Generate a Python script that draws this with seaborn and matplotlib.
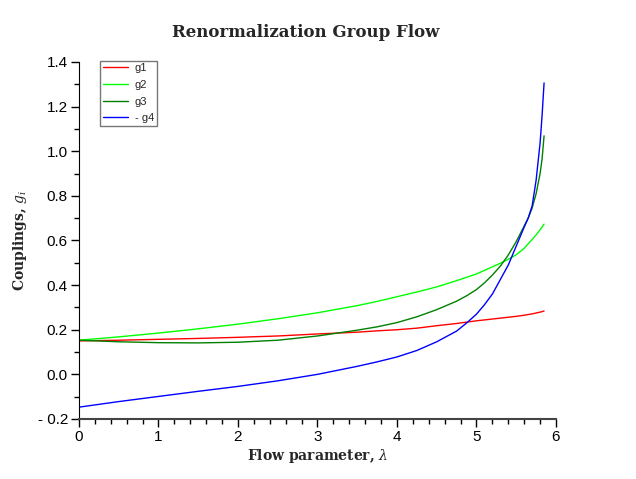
import numpy as np
import pandas as pd
import matplotlib
matplotlib.use("Agg")
import matplotlib.pyplot as plt
import seaborn as sns
from matplotlib.ticker import MultipleLocator, FuncFormatter

# values
lam = [0.0, 0.5, 1.0, 1.5, 2.0, 2.5, 3.0, 3.5, 3.75, 4.0, 4.25, 4.5, 4.75,
       4.875, 5.0, 5.1, 5.2, 5.3, 5.4, 5.5, 5.6, 5.65, 5.7, 5.75, 5.8,
       5.825, 5.85]
g1 = [0.150, 0.153, 0.157, 0.161, 0.166, 0.172, 0.181, 0.189, 0.195, 0.200,
      0.207, 0.218, 0.228, 0.234, 0.240, 0.244, 0.248, 0.252, 0.256, 0.260,
      0.265, 0.268, 0.271, 0.275, 0.279, 0.281, 0.284]
g2 = [0.153, 0.168, 0.185, 0.204, 0.225, 0.249, 0.276, 0.308, 0.327, 0.348,
      0.369, 0.392, 0.420, 0.435, 0.450, 0.466, 0.482, 0.498, 0.516, 0.536,
      0.565, 0.585, 0.605, 0.625, 0.648, 0.660, 0.673]
g3 = [0.153, 0.146, 0.142, 0.141, 0.144, 0.153, 0.172, 0.198, 0.213, 0.232,
      0.258, 0.290, 0.328, 0.352, 0.380, 0.410, 0.445, 0.485, 0.535, 0.595,
      0.665, 0.700, 0.745, 0.810, 0.900, 0.965, 1.069]
neg_g4 = [-0.147, -0.122, -0.099, -0.076, -0.054, -0.029, 0.0, 0.036, 0.056,
          0.078, 0.107, 0.146, 0.194, 0.230, 0.270, 0.312, 0.360, 0.425,
          0.490, 0.575, 0.660, 0.700, 0.755, 0.870, 1.037, 1.160, 1.306]

labels = ["g1", "g2", "g3", "- g4"]
colors = ["#ff0000", "#00ff00", "#008000", "#0000ff"]

df = pd.DataFrame({"lam": lam, "g1": g1, "g2": g2, "g3": g3, "- g4": neg_g4})
long_df = df.melt(id_vars="lam", var_name="series", value_name="value")

sns.set_style("ticks")
plt.rcParams["font.family"] = ["Liberation Sans", "DejaVu Sans"]
plt.rcParams["mathtext.fontset"] = "dejavuserif"

fig = plt.figure(figsize=(6.36, 4.79), dpi=100)
ax = fig.add_axes([0.1242, 0.1253, 0.75, 0.7453])

sns.lineplot(data=long_df, x="lam", y="value", hue="series", hue_order=labels,
             palette=dict(zip(labels, colors)), linewidth=1.0, ax=ax)

ax.set_xlim(0, 6)
ax.set_ylim(-0.2, 1.4)
ax.xaxis.set_major_locator(MultipleLocator(1))
ax.xaxis.set_minor_locator(MultipleLocator(0.2))
ax.yaxis.set_major_locator(MultipleLocator(0.2))
ax.yaxis.set_minor_locator(MultipleLocator(0.1))


def yfmt(v, pos):
    s = f"{abs(v):.1f}"
    return "- " + s if v < -1e-9 else s


ax.yaxis.set_major_formatter(FuncFormatter(yfmt))
ax.tick_params(axis="both", which="major", length=6, width=1, labelsize=11,
               direction="out", pad=2, color="black", labelcolor="black")
ax.tick_params(axis="both", which="minor", length=3.5, width=1,
               direction="out", color="black")

sns.despine(ax=ax)
ax.spines["left"].set_color("black")
ax.spines["bottom"].set_color("#444444")
ax.spines["bottom"].set_linewidth(1.5)

ax.set_xlabel(r"Flow parameter, $\lambda$", family="DejaVu Serif",
              fontweight="bold", fontsize=10, labelpad=2)
ax.set_ylabel(r"Couplings, $g_i$", family="DejaVu Serif",
              fontweight="bold", fontsize=10, labelpad=6)
ax.set_title("Renormalization Group Flow", family="DejaVu Serif",
             fontweight="bold", fontsize=12, pad=18, x=0.475)

leg = ax.legend(loc="upper left", bbox_to_anchor=(0.044, 1.004), fontsize=8,
                frameon=True, fancybox=False, handlelength=2.3,
                labelspacing=0.6, borderpad=0.25, handletextpad=0.6,
                borderaxespad=0)
leg.get_frame().set_edgecolor("#555555")
leg.get_frame().set_linewidth(1.0)

fig.savefig("out.png", dpi=100)
